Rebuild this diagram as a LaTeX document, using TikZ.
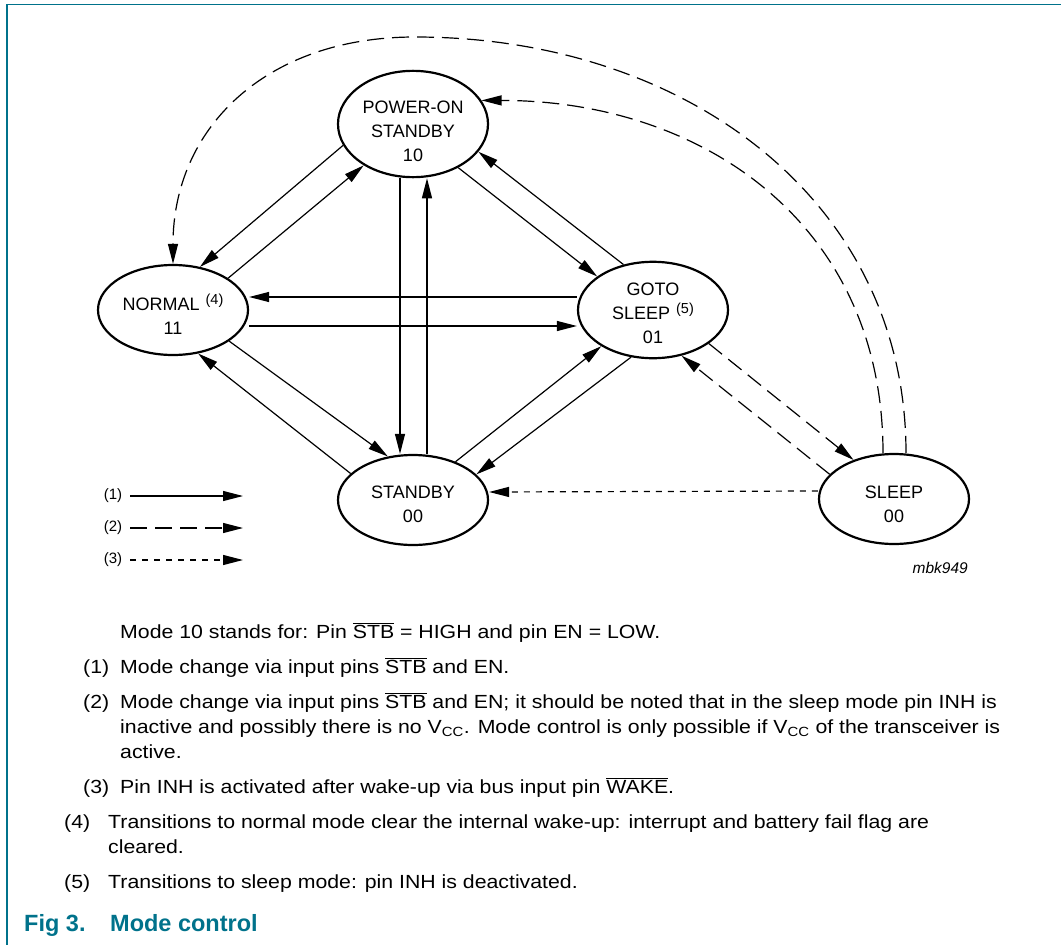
\documentclass[tikz,border=0pt]{standalone}
\usepackage{fontspec}
\setmainfont{Liberation Sans}
\newfontfamily\notefont[FakeStretch=1.12]{Liberation Sans}
\usetikzlibrary{positioning,shapes.geometric,arrows.meta}
\definecolor{figteal}{RGB}{0,114,139}
\tikzstyle{mode} = [ellipse,draw,line width=2.2pt,minimum width=150,minimum height=90,inner sep=0,align=center,font=\fontsize{18}{24}\selectfont]
\tikzstyle{arrow} = [line width=1.2pt,-{Triangle[length=20pt,width=10pt]}]
\tikzstyle{pinmode} = [arrow,dash pattern=on 17pt off 8pt]
\tikzstyle{wakeup} = [arrow,dash pattern=on 6pt off 6pt]
\tikzstyle{legend} = [inner sep=0,font=\fontsize{15}{18}\selectfont]
\tikzstyle{note} = [anchor=base west,align=left,inner sep=0,font=\notefont\fontsize{19}{25}\selectfont]
\newcommand{\pinbar}[1]{$\overline{\mbox{#1}}$}
\newcommand{\sptag}[1]{\hspace{6pt}\raisebox{6pt}{\fontsize{14.5}{14.5}\selectfont #1}}

\begin{document}
\begin{tikzpicture}[x=1pt,y=-1pt]
    \useasboundingbox (0,0) rectangle (1061,945);
    \draw [figteal,line width=1.5pt] (1061,4.5) -- (7,4.5) -- (7,945);

    \node [mode,text height=75pt] (pon) at (413,124) {POWER-ON\\STANDBY\\10};
    \node [mode,text height=49pt] (nor) at (173,310) {NORMAL\sptag{(4)}\\11};
    \node [mode,text height=68pt] (gts) at (653,310) {GOTO\\SLEEP\sptag{(5)}\\01};
    \node [mode,text height=45pt] (stb) at (413,500) {STANDBY\\00};
    \node [mode,text height=47pt] (slp) at (894,499) {SLEEP\\00};

    \draw [arrow] (pon.197) -- (nor.58);
    \draw [arrow] (nor.30) -- (pon.220);
    \draw [arrow] (pon.316) -- (gts.149);
    \draw [arrow] (gts.123) -- (pon.337);
    \draw [arrow] ([xshift=-13pt]pon.south) -- ([xshift=-13pt]stb.north);
    \draw [arrow] ([xshift=14pt]stb.north) -- ([xshift=14pt]pon.south);
    \draw [arrow] ([yshift=13pt]gts.west) -- ([yshift=13pt]nor.east);
    \draw [arrow] ([yshift=-16pt]nor.east) -- ([yshift=-16pt]gts.west);
    \draw [arrow] (nor.331) -- (stb.120);
    \draw [arrow] (stb.157) -- (nor.300);
    \draw [arrow] (stb.42) -- (gts.215);
    \draw [arrow] (gts.245) -- (stb.22);

    \draw [pinmode] (gts.329) -- (slp.136);
    \draw [pinmode] (slp.159) -- (gts.302);
    \draw [pinmode] ([xshift=-11pt]slp.north) .. controls +(0,-230) and +(220,0) .. (pon.19);
    \draw [pinmode] ([xshift=12pt]slp.north) .. controls +(0,-253) and +(270,0) .. (415,37)
        .. controls +(-150,0) and +(0,-135) .. (nor.north);
    \draw [wakeup] ([yshift=8pt]slp.west) -- ([yshift=8pt]stb.east);

    \node [legend] (l1) at (113,496) {(1)};
    \node [legend] (l2) at (113,528) {(2)};
    \node [legend] (l3) at (113,560) {(3)};
    \coordinate (e1) at (243,496);
    \coordinate (e2) at (243,528);
    \coordinate (e3) at (243,560);
    \draw [arrow] ([xshift=8pt]l1.east) -- (e1);
    \draw [pinmode] ([xshift=8pt]l2.east) -- (e2);
    \draw [wakeup] ([xshift=8pt]l3.east) -- (e3);
    \node [anchor=base east,inner sep=0,font=\fontsize{15.5}{18}\selectfont\itshape] (tag) at (968,573) {mbk949};

    \node [note] (n0) at (120,638) {Mode 10 stands for: Pin \pinbar{STB} = HIGH and pin EN = LOW.};
    \node [note] (k1) at (83,673) {(1)};
    \node [note] (n1) at (120,673) {Mode change via input pins \pinbar{STB} and EN.};
    \node [note] (k2) at (83,708) {(2)};
    \node [note] (n2) at (120,758) {Mode change via input pins \pinbar{STB} and EN; it should be noted that in the sleep mode pin INH is\\
        inactive and possibly there is no V\textsubscript{CC}. Mode control is only possible if V\textsubscript{CC} of the transceiver is\\
        active.};
    \node [note] (k3) at (83,793) {(3)};
    \node [note] (n3) at (120,793) {Pin INH is activated after wake-up via bus input pin \pinbar{WAKE}.};
    \node [note] (k4) at (64,828) {(4)};
    \node [note] (n4) at (108,853) {Transitions to normal mode clear the internal wake-up: interrupt and battery fail flag are\\
        cleared.};
    \node [note] (k5) at (64,888) {(5)};
    \node [note] (n5) at (108,888) {Transitions to sleep mode: pin INH is deactivated.};

    \node [anchor=base west,inner sep=0,text=figteal,font=\fontsize{23.5}{28}\selectfont\bfseries] (fig) at (24,931) {Fig 3.};
    \node [anchor=base west,inner sep=0,text=figteal,font=\fontsize{23.5}{28}\selectfont\bfseries] (cap) at (110,931) {Mode control};
\end{tikzpicture}
\end{document}
